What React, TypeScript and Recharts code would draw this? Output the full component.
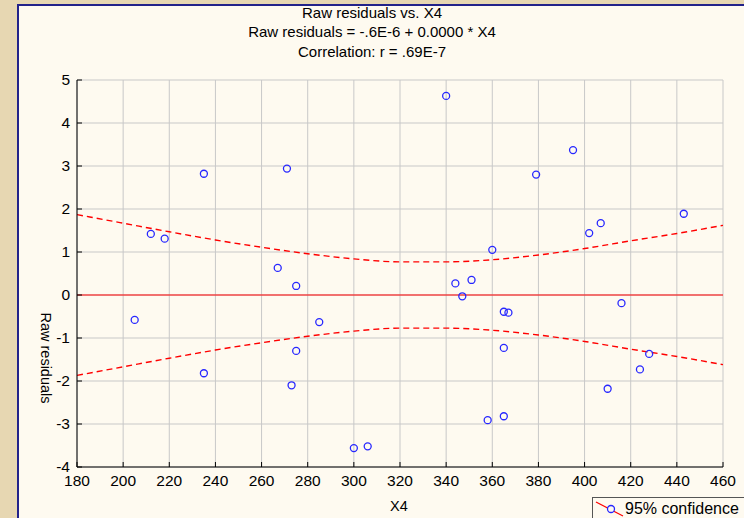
import React from "react";
import { ComposedChart, Scatter, Line, XAxis, YAxis, CartesianGrid } from "recharts";

// residuals
const residualX = [205, 212, 218, 235, 235, 267, 271, 273, 275, 275, 285, 300, 306, 340, 344, 347, 351, 358, 360, 365, 367, 365, 365, 379, 395, 402, 407, 410, 416, 424, 428, 443];
const residualY = [-0.58, 1.42, 1.31, 2.82, -1.82, 0.63, 2.94, -2.1, 0.21, -1.3, -0.63, -3.56, -3.52, 4.63, 0.27, -0.03, 0.35, -2.91, 1.05, -0.39, -0.41, -1.23, -2.82, 2.8, 3.37, 1.44, 1.67, -2.18, -0.19, -1.73, -1.37, 1.89];

// 95% confidence band
const bandX = [180, 200, 220, 240, 260, 280, 300, 320, 340, 360, 380, 400, 420, 440, 460];
const bandUpper = [1.87, 1.67, 1.47, 1.28, 1.11, 0.96, 0.84, 0.77, 0.77, 0.82, 0.93, 1.08, 1.26, 1.43, 1.62];
const bandLower = [-1.87, -1.67, -1.47, -1.28, -1.11, -0.96, -0.84, -0.77, -0.77, -0.82, -0.93, -1.08, -1.26, -1.43, -1.62];

// fitted line
const fitX = [180, 460];
const fitY = [0, 0];

const xTicks = [180, 200, 220, 240, 260, 280, 300, 320, 340, 360, 380, 400, 420, 440, 460];
const yTicks = [-4, -3, -2, -1, 0, 1, 2, 3, 4, 5];

const points = residualX.map((x, i) => ({ x, y: residualY[i] }));
const band = bandX.map((x, i) => ({ x, upper: bandUpper[i], lower: bandLower[i] }));
const fit = fitX.map((x, i) => ({ x, fit: fitY[i] }));

const FONT = '"Liberation Sans", Arial, sans-serif';
const BLUE = "#2727ff";
const RED = "#ff0000";

const XTick = (props: any) => {
  const { x, y, payload } = props;
  return (
    <g>
      <line x1={x} y1={y} x2={x} y2={y - 5} stroke="#000" />
      <text x={x} y={y + 19} textAnchor="middle" fontSize={15.5} fontFamily={FONT} fill="#000">
        {payload.value}
      </text>
    </g>
  );
};

const YTick = (props: any) => {
  const { x, y, payload } = props;
  return (
    <g>
      <line x1={x} y1={y} x2={x + 5} y2={y} stroke="#000" />
      <text x={x - 7} y={y + 5} textAnchor="end" fontSize={15.5} fontFamily={FONT} fill="#000">
        {payload.value}
      </text>
    </g>
  );
};

const Ring = (props: any) => (
  <circle cx={props.cx} cy={props.cy} r={3.5} fill="none" stroke={BLUE} strokeWidth={1.3} />
);

const titleStyle: React.CSSProperties = {
  position: "absolute",
  left: 0,
  width: 744,
  textAlign: "center",
  fontSize: 15,
  lineHeight: "16px",
  fontFamily: FONT,
  color: "#000",
};

export default function App() {
  return (
    <div style={{ position: "fixed", left: 0, top: 0, width: 744, height: 518, background: "#e7d7b2", overflow: "hidden" }}>
      <div
        style={{
          position: "absolute",
          left: 17,
          top: 4,
          width: 744,
          height: 518,
          background: "#fefaf0",
          borderLeft: "2px solid #22228a",
          borderTop: "2px solid #22228a",
        }}
      />
      <div style={{ ...titleStyle, top: 5 }}>Raw residuals vs. X4</div>
      <div style={{ ...titleStyle, top: 24 }}>Raw residuals = -.6E-6 + 0.0000 * X4</div>
      <div style={{ ...titleStyle, top: 44 }}>Correlation: r = .69E-7</div>

      <div style={{ position: "absolute", left: 0, top: 0 }}>
        <ComposedChart width={744} height={518} margin={{ top: 80, right: 21, bottom: 21, left: 37 }}>
          <CartesianGrid stroke="#c8c8c8" strokeWidth={1} />
          <XAxis
            dataKey="x"
            type="number"
            domain={[180, 460]}
            ticks={xTicks}
            height={30}
            tickSize={0}
            tickMargin={0}
            tickLine={false}
            axisLine={{ stroke: "#000" }}
            tick={<XTick />}
            allowDataOverflow
          />
          <XAxis
            xAxisId="top"
            orientation="top"
            type="number"
            domain={[180, 460]}
            ticks={xTicks}
            mirror
            height={0}
            tick={false}
            tickSize={5}
            tickLine={{ stroke: "#000" }}
            axisLine={{ stroke: "#000" }}
          />
          <YAxis
            type="number"
            domain={[-4, 5]}
            ticks={yTicks}
            width={40}
            tickSize={0}
            tickMargin={0}
            tickLine={false}
            axisLine={{ stroke: "#000" }}
            tick={<YTick />}
            allowDataOverflow
          />
          <YAxis
            yAxisId="right"
            orientation="right"
            type="number"
            domain={[-4, 5]}
            ticks={yTicks}
            mirror
            width={0}
            tick={false}
            tickSize={5}
            tickLine={{ stroke: "#000" }}
            axisLine={{ stroke: "#000" }}
          />
          <Line data={fit} dataKey="fit" type="linear" stroke={RED} strokeWidth={1.2} dot={false} activeDot={false} isAnimationActive={false} />
          <Line data={band} dataKey="upper" type="monotone" stroke={RED} strokeWidth={1.4} strokeDasharray="6 4" dot={false} activeDot={false} isAnimationActive={false} />
          <Line data={band} dataKey="lower" type="monotone" stroke={RED} strokeWidth={1.4} strokeDasharray="6 4" dot={false} activeDot={false} isAnimationActive={false} />
          <Scatter data={points} dataKey="y" shape={<Ring />} isAnimationActive={false} />
        </ComposedChart>
      </div>

      <div style={{ position: "absolute", left: 390, top: 498, fontSize: 14.5, fontFamily: FONT, color: "#000" }}>X4</div>
      <div
        style={{
          position: "absolute",
          left: 46,
          top: 358,
          fontSize: 14.5,
          fontFamily: FONT,
          color: "#000",
          whiteSpace: "nowrap",
          transform: "translate(-50%, -50%) rotate(90deg)",
        }}
      >
        Raw residuals
      </div>

      <div
        style={{
          position: "absolute",
          left: 592,
          top: 497,
          width: 160,
          height: 24,
          border: "1px solid #555",
          background: "#fefaf0",
        }}
      >
        <svg width={34} height={22} style={{ position: "absolute", left: 0, top: 0 }}>
          <line x1={3} y1={4} x2={30} y2={18} stroke={RED} strokeWidth={1.2} />
          <circle cx={18} cy={11} r={3.5} fill="#fefaf0" stroke={BLUE} strokeWidth={1.3} />
        </svg>
        <span style={{ position: "absolute", left: 32, top: 2, fontSize: 16, fontFamily: FONT, whiteSpace: "nowrap" }}>
          95% confidence
        </span>
      </div>
    </div>
  );
}
